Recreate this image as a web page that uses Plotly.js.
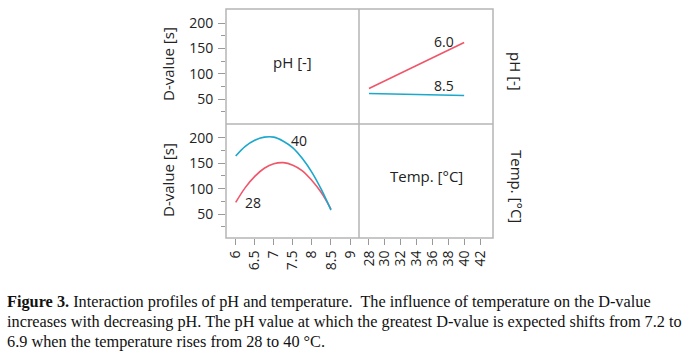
<!DOCTYPE html>
<html>
<head>
<meta charset="utf-8">
<script src="https://cdn.plot.ly/plotly-3.0.1.min.js"></script>
<style>html,body{margin:0;padding:0;background:#fff;}#chart{width:690px;height:360px;}</style>
</head>
<body>
<div id="chart"></div>
<script>
// pH profile (bottom-left panel): D-value vs pH at two temperatures
var pH = [6.0, 6.25, 6.5, 6.75, 7.0, 7.25, 7.5, 7.75, 8.0, 8.25, 8.5];
var D_temp28 = [73, 102, 124, 140, 149, 151, 146, 135, 116, 92, 60];
var D_temp40 = [164, 183, 195, 201, 201, 193, 180, 159, 132, 98, 58];
// Temperature profile (top-right panel): D-value vs temperature at two pH values
var temp = [28, 40];
var D_pH60 = [71, 162];
var D_pH85 = [61, 57];
var pHTicks = [6, 6.5, 7, 7.5, 8, 8.5, 9];
var pHTickText = ['6', '6.5', '7', '7.5', '8', '8.5', '9'];
var tempTicks = [28, 30, 32, 34, 36, 38, 40, 42];
var dTicks = [50, 100, 150, 200];
var dMinor = [25, 75, 125, 175];
var captionLines = [
  '<b>Figure 3.</b> Interaction profiles of pH and temperature.  The influence of temperature on the D-value',
  'increases with decreasing pH. The pH value at which the greatest D-value is expected shifts from 7.2 to',
  '6.9 when the temperature rises from 28 to 40 °C.'
];

var RED = '#f0566a', BLUE = '#1ba8cc';
var W = 690, H = 360;
function px(x){return x/W;}
function py(y){return 1 - y/H;}
var L = 226, M = 359, R = 493, T = 9, C = 124, B = 238;

var traces = [
  {x: pH, y: D_temp28, xaxis:'x', yaxis:'y2', mode:'lines', line:{color:RED, width:1.6, shape:'spline'}, hoverinfo:'skip'},
  {x: pH, y: D_temp40, xaxis:'x', yaxis:'y2', mode:'lines', line:{color:BLUE, width:1.6, shape:'spline'}, hoverinfo:'skip'},
  {x: temp, y: D_pH60, xaxis:'x2', yaxis:'y', mode:'lines', line:{color:RED, width:1.6}, hoverinfo:'skip'},
  {x: temp, y: D_pH85, xaxis:'x2', yaxis:'y', mode:'lines', line:{color:BLUE, width:1.6}, hoverinfo:'skip'}
];

var tickFont = {family:'Open Sans, Noto Sans, sans-serif', size:14, color:'#222'};
var lblFont = {family:'Open Sans, Noto Sans, sans-serif', size:15, color:'#222'};

function yax(domain, range){
  return {domain:domain, range:range, anchor:'x', showgrid:false, zeroline:false, showline:false,
    tickmode:'array', tickvals:dTicks, ticks:'outside', ticklen:7, tickcolor:'#9a9a9a', tickwidth:1,
    tickfont:tickFont, ticklabelstandoff:2,
    minor:{tickmode:'array', tickvals:dMinor, ticks:'outside', ticklen:4, tickcolor:'#9a9a9a', tickwidth:1}};
}

function ann(text, x, y, angle, font){
  return {text:text, xref:'paper', yref:'paper', x:px(x), y:py(y), xanchor:'center', yanchor:'middle',
    textangle:angle || 0, showarrow:false, font:font};
}
function dann(text, xref, yref, x, y){
  return {text:text, xref:xref, yref:yref, x:x, y:y, xanchor:'center', yanchor:'middle', showarrow:false, font:tickFont};
}

var layout = {
  width:W, height:H, margin:{l:0,r:0,t:0,b:0}, paper_bgcolor:'#fff', plot_bgcolor:'rgba(0,0,0,0)',
  showlegend:false,
  xaxis:{domain:[px(L), px(M)], range:[5.745, 9.236], anchor:'y2', showgrid:false, zeroline:false, showline:false,
    tickmode:'array', tickvals:pHTicks, ticktext:pHTickText, ticks:'outside', ticklen:6, tickcolor:'#9a9a9a',
    tickangle:-90, tickfont:tickFont},
  xaxis2:{domain:[px(M), px(R)], range:[26.74, 43.64], anchor:'y2', showgrid:false, zeroline:false, showline:false,
    tickmode:'array', tickvals:tempTicks, ticks:'outside', ticklen:6, tickcolor:'#9a9a9a',
    tickangle:-90, tickfont:tickFont},
  yaxis: yax([py(C), py(T)], [0.5, 228.3]),
  yaxis2: yax([py(B), py(C)], [3.2, 226.8]),
  shapes:[
    {type:'rect', xref:'paper', yref:'paper', x0:px(L), x1:px(R), y0:py(B), y1:py(T), line:{color:'#b5b5b5', width:1.5}},
    {type:'line', xref:'paper', yref:'paper', x0:px(M), x1:px(M), y0:py(B), y1:py(T), line:{color:'#b5b5b5', width:1.5}},
    {type:'line', xref:'paper', yref:'paper', x0:px(L), x1:px(R), y0:py(C), y1:py(C), line:{color:'#b5b5b5', width:1.5}}
  ],
  annotations:[
    ann('pH [-]', 292, 62, 0, lblFont),
    ann('Temp. [°C]', 426, 176, 0, lblFont),
    ann('D-value [s]', 168, 64, -90, lblFont),
    ann('D-value [s]', 168, 180, -90, lblFont),
    ann('pH [-]', 516, 71, 90, lblFont),
    ann('Temp. [°C]', 517, 186, 90, lblFont),
    dann('6.0', 'x2', 'y', 37.46, 163.6),
    dann('8.5', 'x2', 'y', 37.46, 76.4),
    dann('40', 'x', 'y2', 7.67, 194),
    dann('28', 'x', 'y2', 6.46, 73)
  ]
};
var capY = [301.7, 321.7, 341];
captionLines.forEach(function(t, i){
  layout.annotations.push({text:t, xref:'paper', yref:'paper', x:px(5), y:py(capY[i]), xanchor:'left', yanchor:'middle',
    showarrow:false, font:{family:'Liberation Serif, serif', size:16.3, color:'#111'}});
});
Plotly.newPlot('chart', traces, layout, {staticPlot:true, displayModeBar:false});
</script>
</body>
</html>
